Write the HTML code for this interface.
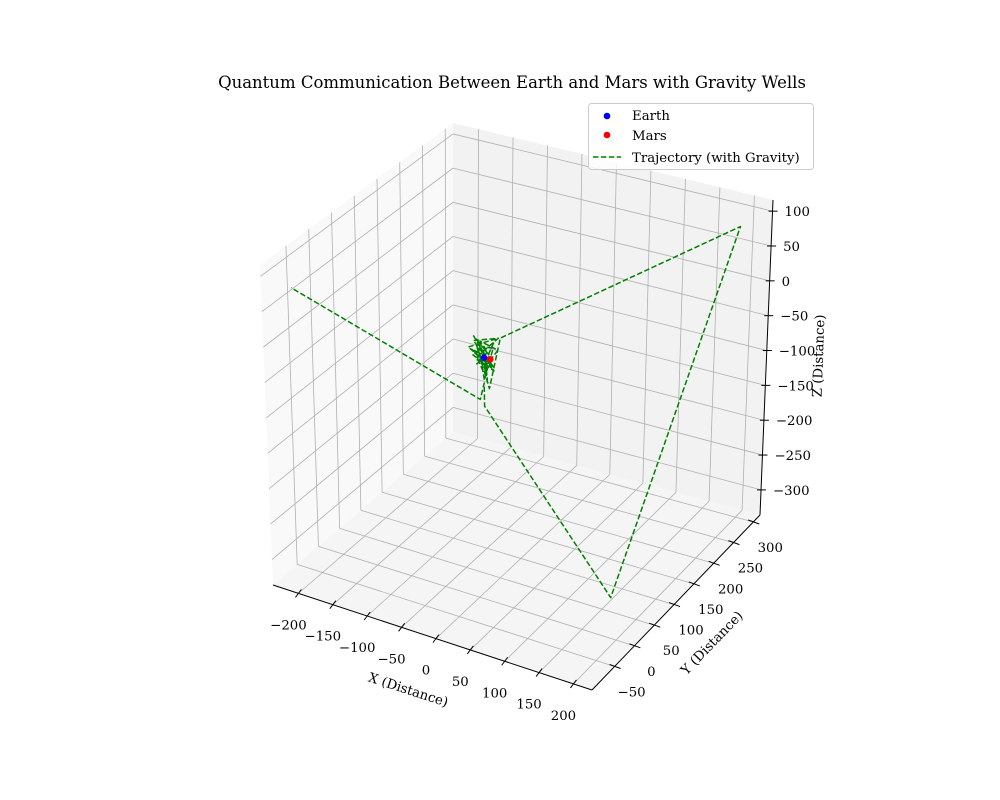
<!DOCTYPE html>
<html><head><meta charset="utf-8"><style>
html,body{margin:0;padding:0;background:#fff;}
svg{display:block;font-family:"DejaVu Serif","Liberation Serif",serif;}
</style></head><body>
<svg id="chart" width="1000" height="800" viewBox="0 0 1000 800" xmlns="http://www.w3.org/2000/svg">
<rect width="1000" height="800" fill="#fff"/>
<text x="512" y="88" text-anchor="middle" font-size="16.5" fill="#000">Quantum Communication Between Earth and Mars with Gravity Wells</text>
<g id="panes"></g>
<g id="grid"></g>
<g id="axes"></g>
<g id="data"></g>
<text x="0" y="0" transform="translate(407,694) rotate(18)" text-anchor="middle" font-size="13.3">X (Distance)</text>
<text x="0" y="0" transform="translate(715,646) rotate(-46)" text-anchor="middle" font-size="13.3">Y (Distance)</text>
<text x="0" y="0" transform="translate(823,356) rotate(-88)" text-anchor="middle" font-size="13.3">Z (Distance)</text>
<g>
<rect x="588.5" y="103.5" width="225" height="66" rx="3" fill="#fff" fill-opacity="0.8" stroke="#ccc"/>
<circle cx="607" cy="116" r="3.3" fill="#0000ff"/>
<text x="632" y="120" font-size="13.3">Earth</text>
<circle cx="607" cy="135" r="3.3" fill="#ff0000"/>
<text x="632" y="140" font-size="13.3">Mars</text>
<line x1="593" y1="157" x2="621" y2="157" stroke="#008000" stroke-width="1.5" stroke-dasharray="5.5,2.4"/>
<text x="632" y="162" font-size="13.3">Trajectory (with Gravity)</text>
</g>
</svg>
<script>
const xRange=[-237,227];
const yRange=[-107,317];
const zRange=[-336,116];
const xTicks=[-200,-150,-100,-50,0,50,100,150,200];
const yTicks=[-50,0,50,100,150,200,250,300];
const zTicks=[-300,-250,-200,-150,-100,-50,0,50,100];
const earth=[10,0,-3];
const mars=[19,0,-3];
const trajX=[10,18,2,24,14,-4,22,0,26,-2,16,-6,24,4,20,-8,18,-2,26,-12,0,14,22,4,12,6,-4,20,8,2,16,18,192,155,7,8,4,-204];
const trajY=[0,-6,4,10,-10,6,14,-8,-4,10,8,-8,4,12,-12,2,10,-4,-8,4,8,-6,2,10,4,-2,6,-10,8,-4,2,25,300,63,5,3,0,-92];
const trajZ=[-3,10,16,6,-14,-8,20,22,-10,4,-20,12,24,-16,16,-4,-24,26,4,2,-10,-30,12,6,-36,18,-18,8,-28,14,-45,14,78,-326,-73,-40,-62,85];

const NS='http://www.w3.org/2000/svg';
const C={ '000':[273,585],'100':[592,690],'110':[760,515],'010':[453,432],
          '001':[260,265],'011':[453,123],'111':[773,200],'101':[590,345]};
function proj(x,y,z){
  const a=(x-xRange[0])/(xRange[1]-xRange[0]);
  const b=(y-yRange[0])/(yRange[1]-yRange[0]);
  const c=(z-zRange[0])/(zRange[1]-zRange[0]);
  let px=0,py=0;
  for(const i of [0,1])for(const j of [0,1])for(const k of [0,1]){
    const w=(i?a:1-a)*(j?b:1-b)*(k?c:1-c);
    const p=C[''+i+j+k];px+=w*p[0];py+=w*p[1];
  }
  return [px,py];
}
function mk(tag,attrs,parent){const e=document.createElementNS(NS,tag);for(const k in attrs)e.setAttribute(k,attrs[k]);parent.appendChild(e);return e;}
const panes=document.getElementById('panes'),grid=document.getElementById('grid'),axes=document.getElementById('axes'),data=document.getElementById('data');
function poly(pts,fill,name){
  const e=mk('polygon',{points:pts.map(p=>p.join(',')).join(' '),fill:fill},panes);
  
  
}
const [x0,x1]=xRange,[y0,y1]=yRange,[z0,z1]=zRange;
poly([proj(x0,y0,z0),proj(x0,y1,z0),proj(x0,y1,z1),proj(x0,y0,z1)],'#f9f9f9','x-pane');
poly([proj(x0,y1,z0),proj(x1,y1,z0),proj(x1,y1,z1),proj(x0,y1,z1)],'#f2f2f2','y-pane');
poly([proj(x0,y0,z0),proj(x1,y0,z0),proj(x1,y1,z0),proj(x0,y1,z0)],'#f5f5f5','z-pane');
function gl(p,q,name){
  const e=mk('line',{x1:p[0],y1:p[1],x2:q[0],y2:q[1],stroke:'#b0b0b0','stroke-width':0.8},grid);
  
  
}
xTicks.forEach(t=>{gl(proj(t,y1,z0),proj(t,y1,z1),'grid-x-back');gl(proj(t,y0,z0),proj(t,y1,z0),'grid-x-floor');});
yTicks.forEach(t=>{gl(proj(x0,t,z0),proj(x0,t,z1),'grid-y-side');gl(proj(x0,t,z0),proj(x1,t,z0),'grid-y-floor');});
zTicks.forEach(t=>{gl(proj(x0,y0,t),proj(x0,y1,t),'grid-z-side');gl(proj(x0,y1,t),proj(x1,y1,t),'grid-z-back');});
function al(p,q,name){
  const e=mk('line',{x1:p[0],y1:p[1],x2:q[0],y2:q[1],stroke:'#000','stroke-width':1},axes);
  
  
}
function lbl(x,y,s,anchor,name){
  const e=mk('text',{x:x,y:y,'font-size':13.3,'text-anchor':anchor},axes);
  e.textContent=s;
  
  
}
function fmt(v){return v<0?'\u2212'+(-v):''+v;}
al(proj(x0,y0,z0),proj(x1,y0,z0),'x-axis-line');
al(proj(x1,y0,z0),proj(x1,y1,z0),'y-axis-line');
al(proj(x1,y1,z0),proj(x1,y1,z1),'z-axis-line');
xTicks.forEach(t=>{const p=proj(t,y0,z0);al([p[0]-3,p[1]+4],[p[0]+3,p[1]-4],'x-tick');lbl(p[0]-10,p[1]+36,fmt(t),'middle','x-tick-label');});
yTicks.forEach(t=>{const p=proj(x1,t,z0);al([p[0]-5,p[1]-2],[p[0]+6,p[1]+2],'y-tick');lbl(p[0]+17,p[1]+30,fmt(t),'middle','y-tick-label');});
zTicks.forEach(t=>{const p=proj(x1,y1,t);al([p[0]-4,p[1]],[p[0]+5,p[1]],'z-tick');lbl(p[0]+12,p[1]+5,fmt(t),'start','z-tick-label');});
const pts=trajX.map((x,i)=>proj(x,trajY[i],trajZ[i]));
const path=mk('polyline',{points:pts.map(p=>p[0].toFixed(1)+','+p[1].toFixed(1)).join(' '),fill:'none',stroke:'#008000','stroke-width':1.5,'stroke-dasharray':'5.5,2.4','stroke-linejoin':'round'},data);


const pe=proj(earth[0],earth[1],earth[2]);
const ce=mk('circle',{cx:pe[0],cy:pe[1],r:3.3,fill:'#0000ff'},data);


const pm=proj(mars[0],mars[1],mars[2]);
const cm=mk('circle',{cx:pm[0],cy:pm[1],r:3.3,fill:'#ff0000'},data);


</script>
</body></html>
